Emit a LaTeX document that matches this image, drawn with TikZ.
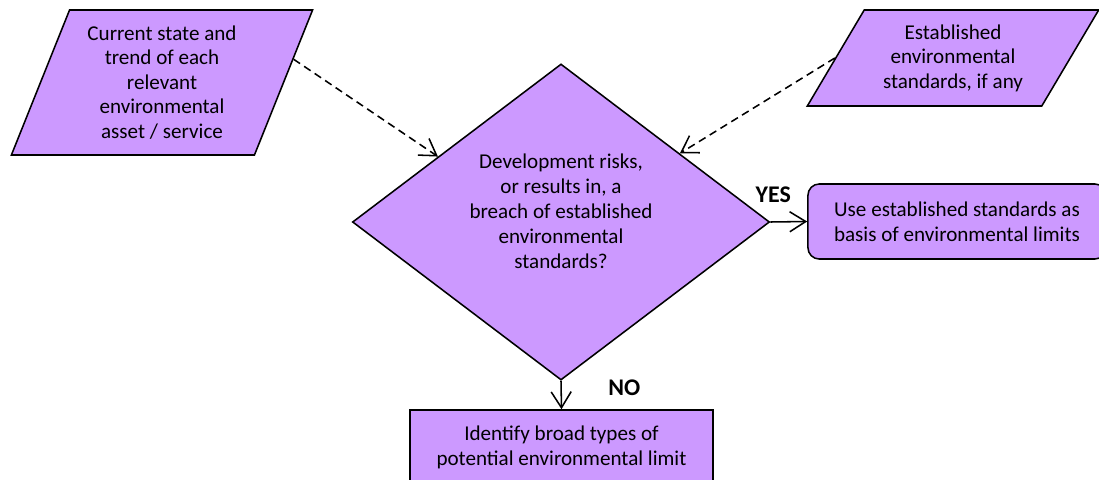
\documentclass[tikz,border=0pt]{standalone}
\usepackage{fontspec}
\setmainfont{Carlito}
\usepackage{tikz}
\usepackage{xcolor}
\usetikzlibrary{shapes.geometric,positioning,arrows.meta}

\definecolor{lilac}{HTML}{CC99FF}

\begin{document}
\begin{tikzpicture}[x=0.025cm, y=-0.025cm, line width=1.1pt, >={Straight Barb[length=4mm,width=5mm]},
    box/.style={draw, fill=lilac, align=center, font=\fontsize{15}{17.5}\selectfont},
    input/.style={box, trapezium, trapezium stretches=true},
    decision/.style={box, diamond, minimum width=10.425cm, minimum height=7.9cm},
    answer/.style={inner sep=0pt, font=\fontsize{17}{18}\selectfont\bfseries}]

    \useasboundingbox (0,0) rectangle (1099,480);

    \node[input, trapezium left angle=68, trapezium right angle=112, minimum width=7.55cm, minimum height=3.625cm] (state) at (162,82.5) {Current state and\\trend of each\\relevant\\environmental\\asset / service};
    \node[input, trapezium left angle=58, trapezium right angle=122, minimum width=7.3cm, minimum height=2.4cm] (standards) at (953,58) {Established\\environmental\\standards, if any};

    \node[decision] (breach) at (561,222) {};
    \node[font=\fontsize{15}{17.8}\selectfont, align=center] (question) at (561,211) {Development risks,\\or results in, a\\breach of established\\environmental\\standards?};

    \node[box, rounded corners=8pt, minimum width=7.45cm, minimum height=1.875cm] (limits) at (957,221.5) {Use established standards as\\basis of environmental limits};
    \node[box, minimum width=7.575cm, minimum height=1.875cm] (types) at (561.5,447.5) {Identify broad types of\\potential environmental limit};

    \path[->, dash pattern=on 5.5pt off 3.5pt]
        (state.10) edge (breach.152)
        (standards.west) edge (breach.30);

    \path[->]
        (breach.east) edge node[answer, pos=0.08, above=13pt] {YES} (limits.west)
        (breach.south) edge node[answer, pos=0.25, right=33pt] {NO} (types.north);

\end{tikzpicture}
\end{document}
